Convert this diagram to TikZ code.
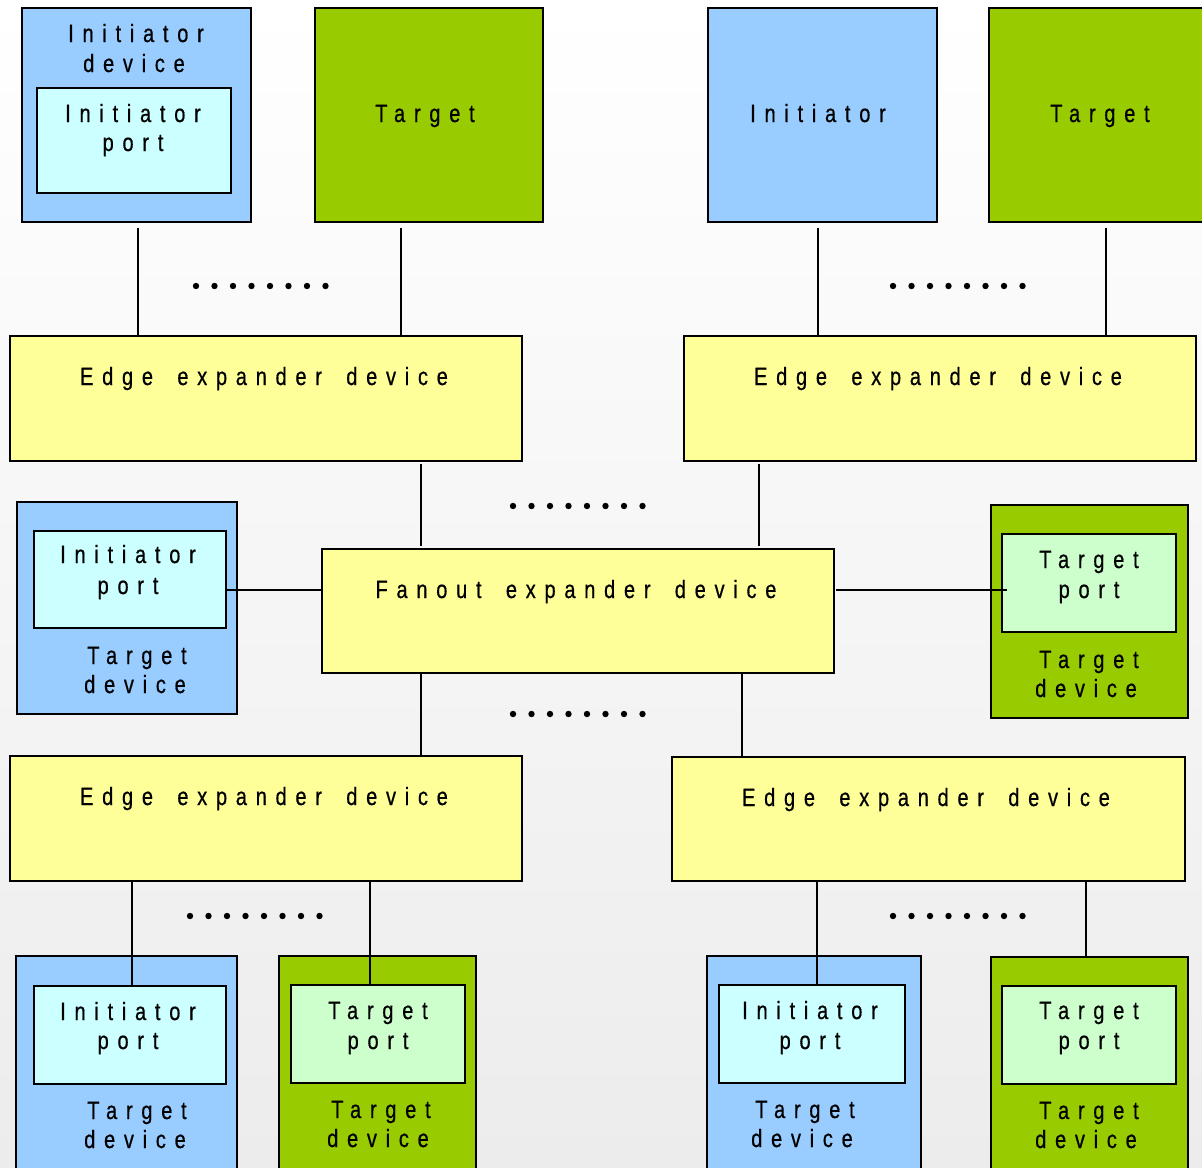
\documentclass[tikz,border=0pt]{standalone}
\usepackage{fontspec}
\newfontfamily\labfont{Liberation Sans}[FakeStretch=0.8, FakeBold=0.6, LetterSpace=35, WordSpace=1.7]
\usetikzlibrary{calc}

\definecolor{devblue}{HTML}{99CCFF}
\definecolor{devgreen}{HTML}{99CC00}
\definecolor{portcyan}{HTML}{CCFFFF}
\definecolor{portgreen}{HTML}{CCFFCC}
\definecolor{expyellow}{HTML}{FFFF99}
\definecolor{bgbottom}{HTML}{ECECEC}

% rectangle node spanning pixel corners (x1,y1)-(x2,y2)
\newcommand\blockat[6]{%
  \node[#1, minimum width={(#4-#2)*0.75pt}, minimum height={(#5-#3)*0.75pt}] (#6) at (#2,#3) {};}
% one line of label text, centred on x, sitting on baseline y
\newcommand\txt[4]{\node[lab] (#1) at (#2,#3) {#4};}

\begin{document}
\begin{tikzpicture}[x=0.75pt, y=-0.75pt,
  block/.style={draw=black, line width=1.8pt, anchor=north west, inner sep=0pt, outer sep=0pt},
  bluedev/.style={block, fill=devblue},
  greendev/.style={block, fill=devgreen},
  iport/.style={block, fill=portcyan},
  tport/.style={block, fill=portgreen},
  expander/.style={block, fill=expyellow},
  lab/.style={anchor=base, inner sep=0pt, text=black,
    font=\labfont\fontsize{18.75pt}{22pt}\selectfont},
  wire/.style={draw=black, line width=1.5pt},
  dotrow/.style={fill=black}]

\useasboundingbox (0,0) rectangle (1202,1167);
\shade[top color=white, bottom color=bgbottom] (0,0) rectangle (1202,1167);

% ---------- top row ----------
\blockat{bluedev}{22}{8}{251}{222}{idev}
\blockat{iport}{37}{88}{231}{193}{idevport}
\blockat{greendev}{315}{8}{543}{222}{tgtA}
\blockat{bluedev}{708}{8}{937}{222}{initB}
\blockat{greendev}{989}{8}{1215}{222}{tgtB}

\txt{idevA}{136}{42}{Initiator}
\txt{idevB}{134}{72}{device}
\txt{idevportA}{133}{122}{Initiator}
\txt{idevportB}{133}{151}{port}
\txt{tgtAl}{425}{122}{Target}
\txt{initBl}{818}{122}{Initiator}
\txt{tgtBl}{1100}{122}{Target}

% ---------- edge expanders, upper ----------
\blockat{expander}{10}{336}{522}{461}{eeTL}
\blockat{expander}{684}{336}{1196}{461}{eeTR}
\txt{eeTLl}{264}{385}{Edge expander device}
\txt{eeTRl}{938}{385}{Edge expander device}

% ---------- fanout row ----------
\blockat{expander}{322}{549}{834}{673}{fan}
\txt{fanl}{576}{598}{Fanout expander device}

\blockat{bluedev}{17}{502}{237}{714}{ldev}
\blockat{iport}{34}{531}{226}{628}{ldevport}
\txt{ldevportA}{128}{563}{Initiator}
\txt{ldevportB}{128}{594}{port}
\txt{ldevA}{137}{664}{Target}
\txt{ldevB}{135}{693}{device}

\blockat{greendev}{991}{505}{1188}{718}{rdev}
\blockat{tport}{1002}{534}{1176}{632}{rdevport}
\txt{rdevportA}{1089}{568}{Target}
\txt{rdevportB}{1089}{598}{port}
\txt{rdevA}{1089}{668}{Target}
\txt{rdevB}{1086}{697}{device}

% ---------- edge expanders, lower ----------
\blockat{expander}{10}{756}{522}{881}{eeBL}
\blockat{expander}{672}{757}{1185}{881}{eeBR}
\txt{eeBLl}{264}{805}{Edge expander device}
\txt{eeBRl}{926}{806}{Edge expander device}

% ---------- bottom row ----------
\blockat{bluedev}{16}{956}{237}{1190}{bdA}
\blockat{iport}{34}{986}{226}{1084}{bdAport}
\txt{bdAportA}{128}{1020}{Initiator}
\txt{bdAportB}{128}{1049}{port}
\txt{bdAA}{137}{1119}{Target}
\txt{bdAB}{135}{1148}{device}

\blockat{greendev}{279}{956}{476}{1190}{bdB}
\blockat{tport}{291}{985}{465}{1083}{bdBport}
\txt{bdBportA}{378}{1019}{Target}
\txt{bdBportB}{378}{1049}{port}
\txt{bdBA}{381}{1118}{Target}
\txt{bdBB}{378}{1147}{device}

\blockat{bluedev}{707}{956}{921}{1190}{bdC}
\blockat{iport}{719}{985}{905}{1083}{bdCport}
\txt{bdCportA}{810}{1019}{Initiator}
\txt{bdCportB}{810}{1049}{port}
\txt{bdCA}{805}{1118}{Target}
\txt{bdCB}{802}{1147}{device}

\blockat{greendev}{991}{957}{1188}{1190}{bdD}
\blockat{tport}{1002}{986}{1176}{1084}{bdDport}
\txt{bdDportA}{1089}{1019}{Target}
\txt{bdDportB}{1089}{1049}{port}
\txt{bdDA}{1089}{1119}{Target}
\txt{bdDB}{1086}{1148}{device}

% ---------- links ----------
\draw[wire] ($(idev.south)+(1.5,6)$) coordinate (a) -- (a |- eeTL.north);
\draw[wire] ($(tgtA.south)+(-28,6)$) coordinate (a) -- (a |- eeTL.north);
\draw[wire] ($(initB.south)+(-4.5,6)$) coordinate (a) -- (a |- eeTR.north);
\draw[wire] ($(tgtB.south)+(4,6)$) coordinate (a) -- (a |- eeTR.north);

\draw[wire] ($(eeTL.south)+(155,3)$) coordinate (a) -- ($(a |- fan.north)+(0,-3)$);
\draw[wire] ($(eeTR.south)+(-181,3)$) coordinate (a) -- ($(a |- fan.north)+(0,-3)$);

\draw[wire] ($(ldevport.east)+(0,10.5)$) coordinate (a) -- (a -| fan.west);
\draw[wire] ($(fan.east |- rdevport.west)+(2,7)$) -- ($(rdevport.west)+(5,7)$);

\draw[wire] ($(fan.south)+(-157,0)$) coordinate (a) -- (a |- eeBL.north);
\draw[wire] ($(fan.south)+(164,0)$) coordinate (a) -- (a |- eeBR.north);

\draw[wire] ($(bdAport.north)+(2,0)$) coordinate (a) -- (a |- eeBL.south);
\draw[wire] ($(bdBport.north)+(-8,0)$) coordinate (a) -- (a |- eeBL.south);
\draw[wire] ($(bdCport.north)+(5,0)$) coordinate (a) -- (a |- eeBR.south);
\draw[wire] ($(bdD.north)+(-3.5,0)$) coordinate (a) -- (a |- eeBR.south);

% ---------- "more devices" dot rows ----------
\foreach \x/\y in {196/286, 893/286, 513/506, 513/714, 190/916, 893/916}
  \foreach \i in {0,...,7}
    \fill[dotrow] (\x+\i*18.5,\y) circle[radius=2.4pt];

\end{tikzpicture}
\end{document}
